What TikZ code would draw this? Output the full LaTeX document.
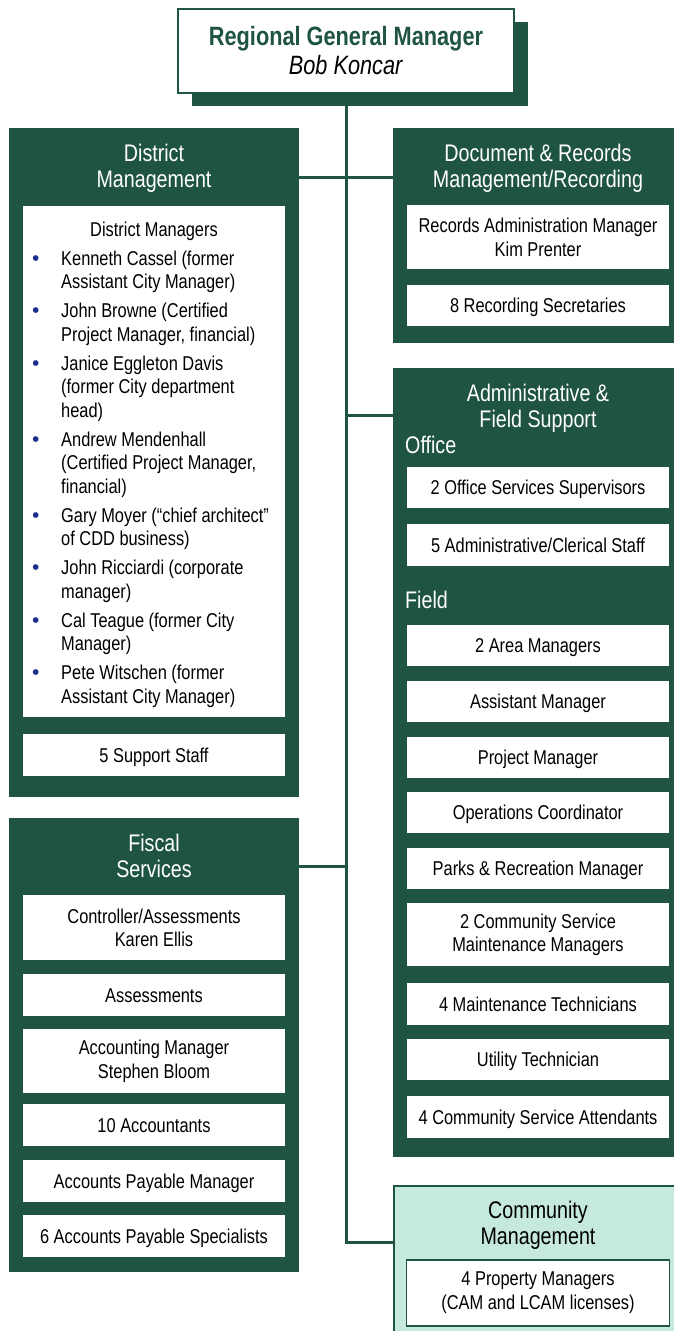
\documentclass[tikz,border=0pt]{standalone}
\usepackage{fontspec}
\setmainfont{Liberation Sans}[FakeStretch=0.82]
\newfontfamily\bulfont{Liberation Sans}
\usetikzlibrary{shadows}

\definecolor{dkgreen}{RGB}{31,84,69}
\definecolor{mint}{RGB}{197,233,220}
\definecolor{bulblue}{RGB}{28,46,140}
\newcommand{\bodyfont}{\fontsize{20}{23.5}\selectfont}
\newcommand{\headfont}{\fontsize{24}{26}\selectfont}
\newcommand{\bul}{\makebox[29pt][l]{\textcolor{bulblue}{\bulfont\fontsize{21}{0}\selectfont\textbullet}}}

\begin{document}
\begin{tikzpicture}[x=1pt, y=-1pt,
                    panel/.style={fill=dkgreen, inner sep=0pt, anchor=north west},
                    item/.style={fill=white, inner sep=0pt, minimum width=262pt, anchor=north, align=center, font=\bodyfont},
                    single/.style={text height=15.5pt, text depth=1.5pt},
                    head/.style={text=white, align=center, font=\headfont},
                    sub/.style={text=white, anchor=west, inner sep=0pt, font=\headfont},
                    conn/.style={draw=dkgreen, line width=3pt}
]
\useasboundingbox (0,0) rectangle (674,1331);

\node [fill=white, draw=dkgreen, line width=2pt, minimum width=336pt, minimum height=84pt, align=center,
       font=\fontsize{26.5}{29}\selectfont,
       drop shadow={fill=dkgreen, opacity=1, shadow xshift=14pt, shadow yshift=-13pt}]
      at (346,50.5) (rgm) {{\color{dkgreen}\bfseries Regional General Manager}\\\textit{Bob Koncar}};
%
\node [panel, minimum width=290pt, minimum height=669pt] at (9,128) (dist) {};
\node [panel, minimum width=283pt, minimum height=215pt] at (393,128) (doc) {};
\node [panel, minimum width=283pt, minimum height=789pt] at (393,368) (admin) {};
\node [panel, minimum width=290pt, minimum height=454pt] at (9,818) (fisc) {};
\node [panel, fill=mint, draw=dkgreen, line width=2pt, minimum width=283pt, minimum height=170pt] at (393,1185) (comm) {};
%
\node [head] at (154,168) (disthd) {District\\Management};
\node [head] at (538,168) (dochd) {Document \& Records\\Management/Recording};
\node [head] at (538,408) (adminhd) {Administrative \&\\Field Support};
\node [head] at (154,856) (fischd) {Fiscal\\Services};
\node [head, text=black] at (538,1225) (commhd) {Community\\Management};
%
\node [item, minimum height=511pt] at (154,206) (dmbox) {};
\node [font=\bodyfont] at (154,231) (dmhd) {District Managers};
\node [font=\bodyfont, anchor=base west, inner sep=0pt] at (32,265) (dmlist) {%
  \begin{tabular}[t]{@{}l@{}l@{}}
  \bul & Kenneth Cassel (former\\
       & Assistant City Manager)\\[5.5pt]
  \bul & John Browne (Certified\\
       & Project Manager, financial)\\[5.5pt]
  \bul & Janice Eggleton Davis\\
       & (former City department\\
       & head)\\[5.5pt]
  \bul & Andrew Mendenhall\\
       & (Certified Project Manager,\\
       & financial)\\[5.5pt]
  \bul & Gary Moyer (``chief architect''\\
       & of CDD business)\\[5.5pt]
  \bul & John Ricciardi (corporate\\
       & manager)\\[5.5pt]
  \bul & Cal Teague (former City\\
       & Manager)\\[5.5pt]
  \bul & Pete Witschen (former\\
       & Assistant City Manager)
  \end{tabular}};
\node [item, single, minimum height=42pt] at (154,734) (supp) {5 Support Staff};
%
\node [item, minimum height=64pt] at (538,205) (recmgr) {Records Administration Manager\\Kim Prenter};
\node [item, single, minimum height=41pt] at (538,285) (recsec) {8 Recording Secretaries};
%
\node [sub] at (405,445) (office) {Office};
\node [item, single, minimum height=41pt] at (538,467) (offsup) {2 Office Services Supervisors};
\node [item, single, minimum height=42pt] at (538,524) (clerk) {5 Administrative/Clerical Staff};
\node [sub] at (405,600) (field) {Field};
\node [item, single, minimum height=41pt] at (538,625) (areamgr) {2 Area Managers};
\node [item, single, minimum height=41pt] at (538,681) (asstmgr) {Assistant Manager};
\node [item, single, minimum height=41pt] at (538,737) (projmgr) {Project Manager};
\node [item, single, minimum height=41pt] at (538,792) (opscoord) {Operations Coordinator};
\node [item, single, minimum height=41pt] at (538,848) (parks) {Parks \& Recreation Manager};
\node [item, minimum height=63pt] at (538,903) (csmaint) {2 Community Service\\Maintenance Managers};
\node [item, single, minimum height=42pt] at (538,983) (mainttech) {4 Maintenance Technicians};
\node [item, single, minimum height=41pt] at (538,1039) (utiltech) {Utility Technician};
\node [item, single, minimum height=42pt] at (538,1096) (csatt) {4 Community Service Attendants};
%
\node [item, minimum height=65pt] at (154,895) (ctrl) {Controller/Assessments\\Karen Ellis};
\node [item, single, minimum height=42pt] at (154,974) (assess) {Assessments};
\node [item, minimum height=64pt] at (154,1029) (acctmgr) {Accounting Manager\\Stephen Bloom};
\node [item, single, minimum height=42pt] at (154,1104) (accts) {10 Accountants};
\node [item, single, minimum height=42pt] at (154,1160) (apmgr) {Accounts Payable Manager};
\node [item, single, minimum height=42pt] at (154,1215) (apspec) {6 Accounts Payable Specialists};
%
\node [item, draw=dkgreen, line width=1.5pt, minimum width=263pt, minimum height=66pt] at (538,1259) (propmgr) {4 Property Managers\\(CAM and LCAM licenses)};
%
\coordinate (j1) at (346,177);
\coordinate (j2) at (346,415);
\coordinate (j3) at (346,866);
\coordinate (j4) at (346,1242);
\draw [conn] (rgm.south) -- (j4) -- (j4 -| comm.west);
\draw [conn] (dist.east |- j1) -- (doc.west |- j1);
\draw [conn] (j2) -- (admin.west |- j2);
\draw [conn] (fisc.east |- j3) -- (j3);
\end{tikzpicture}
\end{document}
